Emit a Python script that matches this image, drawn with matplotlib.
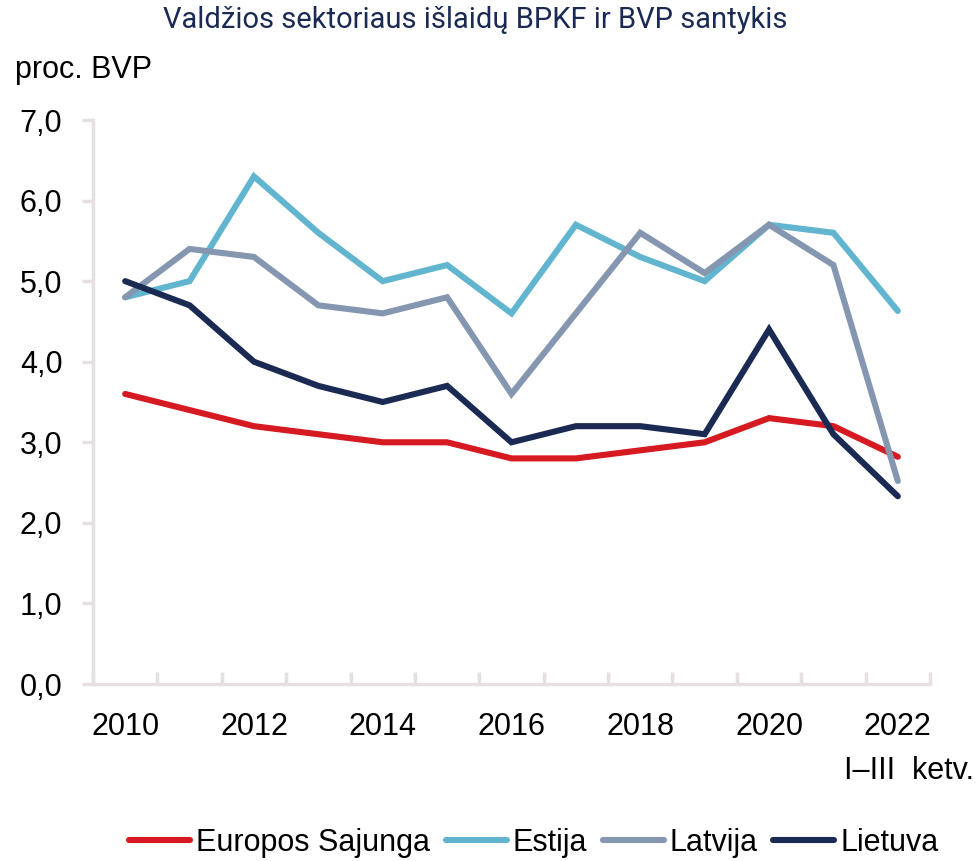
import matplotlib
matplotlib.use("Agg")
import matplotlib.pyplot as plt
import numpy as np

years = ["2010", "2011", "2012", "2013", "2014", "2015", "2016", "2017", "2018", "2019", "2020", "2021", "2022"]
eu = [3.6, 3.4, 3.2, 3.1, 3.0, 3.0, 2.8, 2.8, 2.9, 3.0, 3.3, 3.2, 2.82]
estija = [4.8, 5.0, 6.3, 5.6, 5.0, 5.2, 4.6, 5.7, 5.3, 5.0, 5.7, 5.6, 4.63]
latvija = [4.8, 5.4, 5.3, 4.7, 4.6, 4.8, 3.6, 4.6, 5.6, 5.1, 5.7, 5.2, 2.52]
lietuva = [5.0, 4.7, 4.0, 3.7, 3.5, 3.7, 3.0, 3.2, 3.2, 3.1, 4.4, 3.1, 2.33]
series_names = ["Europos Sajunga", "Estija", "Latvija", "Lietuva"]
colors = ["#d61a21", "#62b5cf", "#8597b0", "#1a2a52"]
yticks = [0, 1, 2, 3, 4, 5, 6, 7]

plt.rcParams['font.family'] = ['Liberation Sans', 'DejaVu Sans']
FS = 22

fig = plt.figure(figsize=(9.77, 8.61), dpi=100)
ax = fig.add_axes([93/977, 1-684/861, (930-93)/977, (684-120)/861])

x = np.arange(len(years))
for vals, c, name in zip([eu, estija, latvija, lietuva], colors, series_names):
    ax.plot(x, vals, color=c, lw=4.4, solid_capstyle='round', solid_joinstyle='miter', label=name)

ax.set_xlim(-0.5, len(years) - 0.5)
ax.set_ylim(0, 7)
ax.set_yticks(yticks)
ax.set_yticklabels([f"{v:.1f}".replace(".", ",") for v in yticks], fontsize=FS)

ax.set_xticks(x)
ax.set_xticklabels([y if i % 2 == 0 else "" for i, y in enumerate(years)], fontsize=FS)
ax.tick_params(axis='x', which='major', length=0, pad=20)
ax.set_xticks(np.arange(-0.5, len(years)), minor=True)
ax.tick_params(axis='x', which='minor', direction='in', length=9, width=2.5, color='#e6e0e4')
ax.tick_params(axis='y', direction='out', length=8, width=2.5, color='#e6e0e4', pad=14)

for s in ['top', 'right']:
    ax.spines[s].set_visible(False)
for s in ['left', 'bottom']:
    ax.spines[s].set_color('#e6e0e4')
    ax.spines[s].set_linewidth(2.5)

ax.annotate("I–III  ketv.", xy=(12, 0), xycoords='data', xytext=(8, -52), textcoords='offset points',
            ha='center', va='top', fontsize=FS, annotation_clip=False)

fig.text(15/977, 1-70/861, "proc. BVP", fontsize=FS, ha='left', va='center')
fig.text(475/977, 1-20/861, "Valdžios sektoriaus išlaidų BPKF ir BVP santykis", fontsize=21,
         family=['Roboto', 'DejaVu Sans'], color='#1a2a52', ha='center', va='center')

fig.legend(loc='center', bbox_to_anchor=(534/977, 1-843/861), ncol=4, frameon=False, fontsize=FS,
           handlelength=2.0, handletextpad=0.2, columnspacing=0.5, borderaxespad=0)

fig.savefig("out.png", dpi=100)
